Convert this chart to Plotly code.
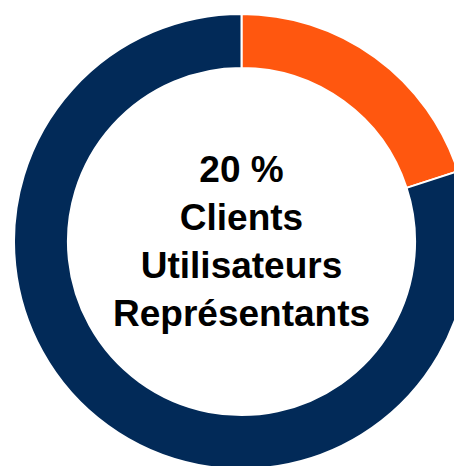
import plotly.graph_objects as go

labels = ["Clients Utilisateurs Représentants", "Autres"]
values = [20, 80]
colors = ["#FF570F", "#022A58"]
center_text = ["20 %", "Clients", "Utilisateurs", "Représentants"]

fig = go.Figure(go.Pie(
    labels=labels,
    values=values,
    sort=False,
    direction="clockwise",
    rotation=0,
    hole=0.763,
    marker=dict(colors=colors, line=dict(color="white", width=2)),
    textinfo="none",
    hoverinfo="none",
    showlegend=False,
))

fig.add_annotation(
    x=0.5, y=0.5, xref="paper", yref="paper",
    text="<br>".join(center_text),
    showarrow=False,
    font=dict(family="Liberation Sans, Arial, sans-serif", size=37, color="black", weight="bold"),
    align="center",
)

fig.update_layout(
    width=470, height=470,
    margin=dict(l=6, r=9, t=6, b=9),
    paper_bgcolor="white",
    plot_bgcolor="white",
)

fig.write_html("out.html")
